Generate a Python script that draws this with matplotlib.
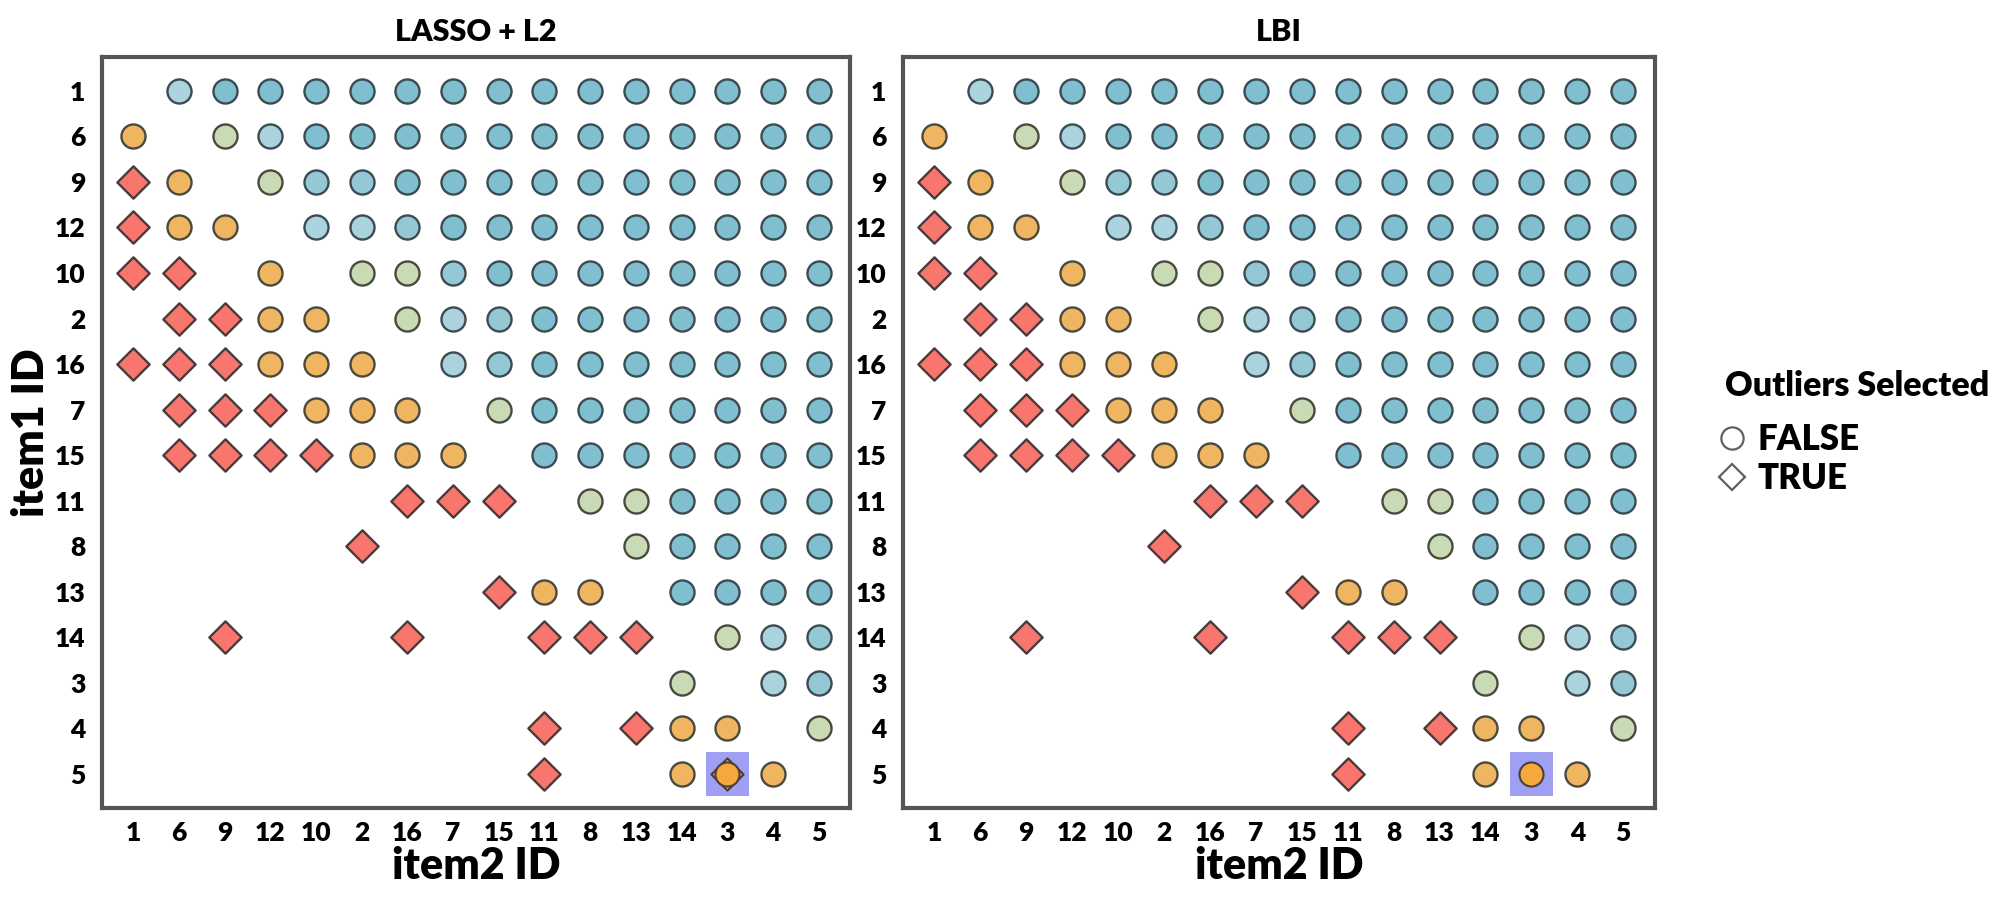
import matplotlib
matplotlib.use("Agg")
import matplotlib.pyplot as plt
from matplotlib.lines import Line2D

plt.rcParams['font.family'] = ['Lato', 'DejaVu Sans']
plt.rcParams['font.weight'] = 'heavy'

# item order on both axes (top->bottom, left->right)
row_ids = [1, 6, 9, 12, 10, 2, 16, 7, 15, 11, 8, 13, 14, 3, 4, 5]
col_ids = [1, 6, 9, 12, 10, 2, 16, 7, 15, 11, 8, 13, 14, 3, 4, 5]

# cell codes: B/M/L blue shades, G green, O orange, R outlier (diamond),
# X highlighted outlier, Y highlighted non-outlier, . empty
lasso_cells = [
    ".LBBBBBBBBBBBBBB",
    "O.GLBBBBBBBBBBBB",
    "RO.GMMBBBBBBBBBB",
    "ROO.LLMBBBBBBBBB",
    "RR.O.GGMBBBBBBBB",
    ".RROO.GLMBBBBBBB",
    "RRROOO.LMBBBBBBB",
    ".RRROOO.GBBBBBBB",
    ".RRRROOO.BBBBBBB",
    "......RRR.GGBBBB",
    ".....R.....GBBBB",
    "........ROO.BBBB",
    "..R...R..RRR.GLM",
    "............G.LM",
    ".........R.ROO.G",
    ".........R..OXO.",
]
lbi_cells = [
    ".LBBBBBBBBBBBBBB",
    "O.GLBBBBBBBBBBBB",
    "RO.GMMBBBBBBBBBB",
    "ROO.LLMBBBBBBBBB",
    "RR.O.GGMBBBBBBBB",
    ".RROO.GLMBBBBBBB",
    "RRROOO.LMBBBBBBB",
    ".RRROOO.GBBBBBBB",
    ".RRRROOO.BBBBBBB",
    "......RRR.GGBBBB",
    ".....R.....GBBBB",
    "........ROO.BBBB",
    "..R...R..RRR.GLM",
    "............G.LM",
    ".........R.ROO.G",
    ".........R..OYO.",
]
panel_titles = ["LASSO + L2", "LBI"]
legend_title = "Outliers Selected"
legend_labels = ["FALSE", "TRUE"]

colors = {
    'B': '#80bfcf',
    'M': '#94c8d5',
    'L': '#abd3de',
    'G': '#c9dbb5',
    'O': '#efb561',
    'R': '#f8766d',
}
orange_hi = '#f5a83c'


def draw_panel(ax, cells, title):
    pts = {}
    for r, row in enumerate(cells):
        for c, code in enumerate(row):
            if code != '.':
                pts.setdefault(code, []).append((c, r))

    for code, xy in pts.items():
        xs = [p[0] for p in xy]
        ys = [p[1] for p in xy]
        if code == 'R':
            ax.scatter(xs, ys, s=270, marker='D', c=colors['R'],
                       edgecolors='#4a3b3b', linewidths=1.7, zorder=3)
        elif code in ('X', 'Y'):
            ax.scatter(xs, ys, s=980, marker='s', c='#8080f0', alpha=0.75,
                       edgecolors='none', zorder=2)
            if code == 'X':
                ax.scatter(xs, ys, s=270, marker='D', c=orange_hi,
                           edgecolors='#4a3b3b', linewidths=1.5, zorder=3)
            ax.scatter(xs, ys, s=300, marker='o', c=orange_hi,
                       edgecolors='#4a4040', linewidths=1.5, zorder=4)
        else:
            edge = '#3d4c52' if code in 'BML' else '#4a4a40'
            ax.scatter(xs, ys, s=300, marker='o', c=colors[code],
                       edgecolors=edge, linewidths=1.7, zorder=3)

    ax.set_xlim(-0.68, 15.68)
    ax.set_ylim(15.75, -0.75)
    ax.set_xticks(range(len(col_ids)))
    ax.set_xticklabels([str(v) for v in col_ids])
    ax.set_yticks(range(len(row_ids)))
    ax.set_yticklabels([str(v) for v in row_ids])
    ax.tick_params(length=0, labelsize=19)
    ax.tick_params(axis='y', pad=12)
    ax.tick_params(axis='x', pad=9)
    for sp in ax.spines.values():
        sp.set_color('#555555')
        sp.set_linewidth(3)
    ax.set_title(title, fontsize=22, fontweight='heavy', pad=11)
    ax.set_xlabel("item2 ID", fontsize=31, fontweight='heavy', labelpad=1)


fig = plt.figure(figsize=(20.04, 9), dpi=100)
ax1 = fig.add_axes([0.051, 0.102, 0.373, 0.835])
ax2 = fig.add_axes([0.4506, 0.102, 0.375, 0.835])

draw_panel(ax1, lasso_cells, panel_titles[0])
draw_panel(ax2, lbi_cells, panel_titles[1])
ax1.set_ylabel("item1 ID", fontsize=31, fontweight='heavy', labelpad=3)

fig.text(1725 / 2004, 1 - 386 / 900, legend_title, fontsize=24.5,
         ha='left', va='center')

handles = [
    Line2D([], [], marker='o', linestyle='none', markersize=16,
           markerfacecolor='white', markeredgecolor='#606060', markeredgewidth=1.6),
    Line2D([], [], marker='D', linestyle='none', markersize=13.5,
           markerfacecolor='white', markeredgecolor='#606060', markeredgewidth=1.6),
]
leg = fig.legend(handles, legend_labels, loc='upper left',
                 bbox_to_anchor=(1718 / 2004, 1 - 423 / 900),
                 frameon=False, fontsize=25, handletextpad=0.35,
                 labelspacing=0.18, handlelength=0.8,
                 borderaxespad=0, borderpad=0)

fig.savefig("out.png", dpi=100)
